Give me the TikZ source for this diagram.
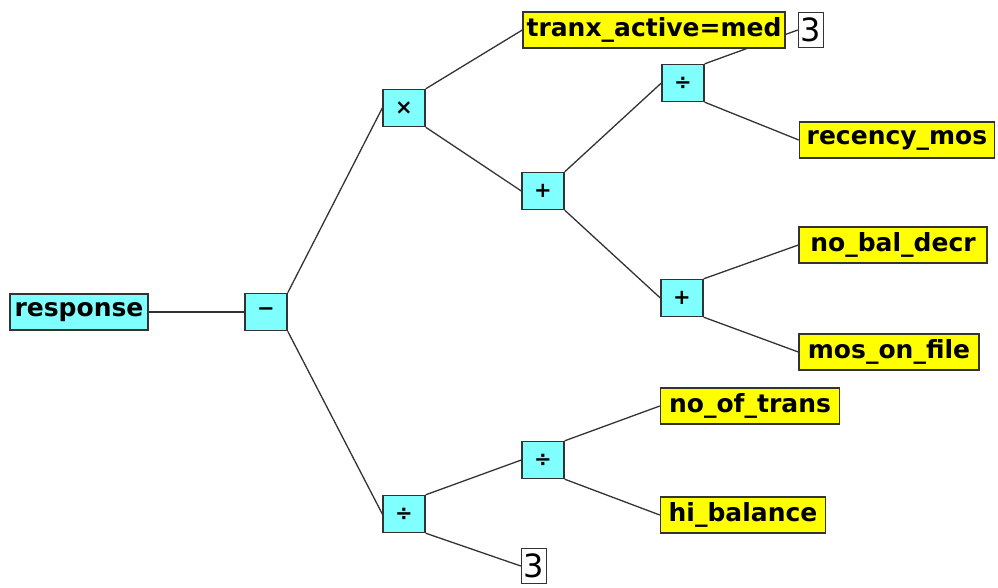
\documentclass[tikz,border=0pt]{standalone}
\usepackage{fontspec}
\setmainfont{DejaVu Sans}
\pgfdeclarelayer{bg}
\pgfsetlayers{bg,main}
\definecolor{opcyan}{HTML}{80FFFF}
\definecolor{varyellow}{HTML}{FFFF00}
\definecolor{edgegray}{HTML}{333333}
\tikzset{
  opbox/.style={draw=edgegray, line width=1.4pt, fill=opcyan, inner sep=0pt,
    minimum width=42pt, minimum height=37pt, font=\fontsize{21}{21}\selectfont\bfseries},
  varbox/.style={draw=edgegray, line width=1.4pt, fill=varyellow, inner sep=0pt,
    minimum height=36pt, font=\fontsize{25}{25}\selectfont\bfseries},
  rootbox/.style={varbox, fill=opcyan},
  constbox/.style={draw=edgegray, line width=1.4pt, fill=white, inner sep=0pt,
    minimum width=25pt, minimum height=35pt, font=\fontsize{32}{32}\selectfont},
  link/.style={draw=edgegray, line width=1.3pt}
}
\begin{document}
\begin{tikzpicture}[x=1pt,y=-1pt]
\useasboundingbox (0,0) rectangle (998,587);
% nodes
\node[rootbox, minimum width=138pt] (resp) at (79,312) {response};
\node[opbox] (minus) at (266,312) {\textminus};
\node[opbox] (times) at (404,108) {×};
\node[varbox, minimum width=262pt] (tranx) at (654,30) {tranx\_active=med};
\node[constbox] (threeA) at (811,30) {3};
\node[opbox] (divA) at (683,83) {÷};
\node[varbox, minimum width=195pt] (recency) at (897,140) {recency\_mos};
\node[opbox] (plusA) at (543,191) {+};
\node[opbox] (plusB) at (682,298) {+};
\node[varbox, minimum width=188pt] (nobal) at (893,245) {no\_bal\_decr};
\node[varbox, minimum width=180pt] (mos) at (889,352) {mos\_on\_file};
\node[opbox] (divB) at (404,514) {÷};
\node[opbox] (divC) at (543,460) {÷};
\node[varbox, minimum width=179pt] (notrans) at (750,406) {no\_of\_trans};
\node[varbox, minimum width=165pt] (hibal) at (743,515) {hi\_balance};
\node[constbox] (threeB) at (534,566) {3};
% connectors
\begin{pgfonlayer}{bg}
\draw[link] (resp.east) -- (minus.west);
\draw[link] (minus.north east) -- (times.west);
\draw[link] (minus.south east) -- (divB.west);
\draw[link] (times.north east) -- (tranx.west);
\draw[link] (times.south east) -- (plusA.west);
\draw[link] (plusA.north east) -- (divA.west);
\draw[link] (plusA.south east) -- (plusB.west);
\draw[link] (divA.north east) -- (threeA.west);
\draw[link] (divA.south east) -- (recency.west);
\draw[link] (plusB.north east) -- (nobal.west);
\draw[link] (plusB.south east) -- (mos.west);
\draw[link] (divB.north east) -- (divC.west);
\draw[link] (divB.south east) -- (threeB.west);
\draw[link] (divC.north east) -- (notrans.west);
\draw[link] (divC.south east) -- (hibal.west);
\end{pgfonlayer}
\end{tikzpicture}
\end{document}
